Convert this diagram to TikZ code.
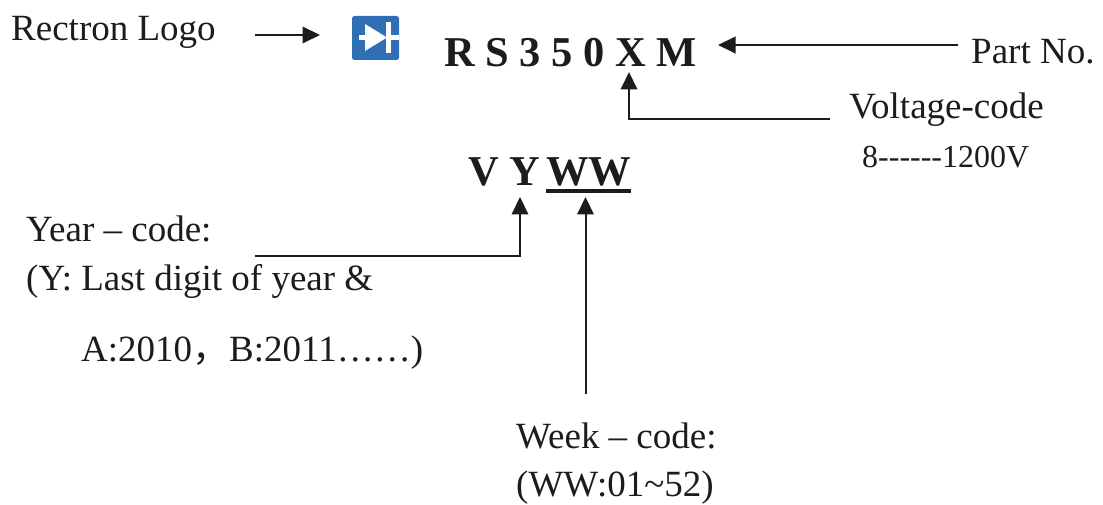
\documentclass[tikz,border=0pt]{standalone}
\usepackage{fontspec}
\setmainfont{Liberation Serif}
\newfontfamily\cjk{Noto Sans CJK SC}
\usetikzlibrary{arrows.meta}
\definecolor{ink}{HTML}{1C1C1C}
\definecolor{logoblue}{HTML}{2F6FB5}
\begin{document}
\begin{tikzpicture}[x=1pt,y=-1pt,
  lab/.style={inner sep=0pt,anchor=base west,text=ink,font=\fontsize{37}{37}\selectfont},
  small/.style={inner sep=0pt,anchor=base west,text=ink,font=\fontsize{32}{32}\selectfont},
  big/.style={inner sep=0pt,anchor=base west,text=ink,font=\fontsize{42.5}{42.5}\selectfont\bfseries},
  conn/.style={draw=ink,line width=2pt,-{Triangle[length=17.5pt,width=16.5pt]}}]
\useasboundingbox (0,0) rectangle (1103,505);
\node[lab] (logo) at (11,41) {Rectron Logo};
\coordinate (logoA) at (255,35);
\coordinate (logoT) at (320,35);
\node[inner sep=0pt,minimum width=47pt,minimum height=44pt,fill=logoblue,rounded corners=2.5pt] (icon) at (375.5,38) {};
\fill[white] (365,24) -- (387,37.5) -- (365,51) -- cycle;
\fill[white] (386,22) rectangle (391,53);
\fill[white] (359,35.2) rectangle (365,40);
\fill[white] (391,35.2) rectangle (399,40);
\node[big] (part) at (444,66.5) {R S 3 5 0 X M};
\node[lab] (pn) at (971,64) {Part No.};
\coordinate (pnA) at (958,45);
\coordinate (partR) at (718,45);
\node[lab] (volt) at (849,119) {Voltage-code};
\node[small] (v8) at (862,168) {8-{}-{}-{}-{}-{}-1200V};
\coordinate (vs) at (830,119);
\coordinate (vc) at (629,119);
\coordinate (vt) at (629,72);
\node[big] (vy) at (468,185.5) {V Y};
\node[big] (ww) at (546,185.5) {WW};
\draw[ink,line width=4pt] (546,191) -- (631,191);
\node[lab] (yc) at (26,241) {Year -- code:};
\node[lab] (y2) at (26,290) {(Y: Last digit of year \&};
\node[lab] (y3) at (81,361) {A:2010{\cjk ，}B:2011……)};
\coordinate (ys) at (255,256);
\coordinate (yc1) at (520,256);
\coordinate (yt) at (520,197);
\node[lab] (wc) at (516,448) {Week -- code:};
\node[lab] (w2) at (516,496) {(WW:01\char`~52)};
\coordinate (ws) at (585.5,394);
\coordinate (wt) at (585.5,197);
\draw[conn] (logoA) -- (logoT);
\draw[conn] (pnA) -- (partR);
\draw[conn] (vs) -- (vc) -- (vt);
\draw[conn] (ys) -- (yc1) -- (yt);
\draw[conn] (ws) -- (wt);
\end{tikzpicture}
\end{document}
